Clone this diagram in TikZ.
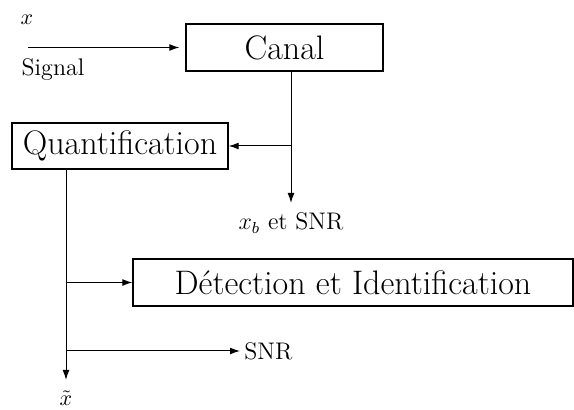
\RequirePackage{fix-cm}
\documentclass[tikz,border=0pt]{standalone}
\usetikzlibrary{arrows.meta,calc}
\begin{document}
\begin{tikzpicture}[x=0.5pt,y=-0.5pt,
  blk/.style={draw,line width=0.6pt,inner sep=0pt,font=\fontsize{17}{20}\selectfont},
  lbl/.style={inner sep=0pt,font=\fontsize{12}{14}\selectfont},
  mlbl/.style={inner sep=0pt,font=\fontsize{11}{13}\selectfont},
  arr/.style={-{Latex[length=5pt,width=3.4pt]},line width=0.5pt},
  ln/.style={line width=0.5pt}]
\useasboundingbox (0,0) rectangle (574,410);
% blocks
\node[blk,minimum width=98.5pt,minimum height=23.5pt] (canal) at (284.5,47.5) {Canal};
\node[blk,minimum width=108pt,minimum height=23pt] (quant) at (120,146) {Quantification};
\node[blk,minimum width=220pt,minimum height=23.5pt] (det) at (353,282.5) {D\'etection et Identification};
% labels
\node[mlbl] (x) at (27,20) {$x$};
\node[lbl] (sig) at (53,70) {Signal};
\node[lbl] (xb) at (291,223) {$x_b$ et SNR};
\node[lbl,anchor=west] (snr) at (244,351) {SNR};
\node[mlbl] (xt) at (66,398) {$\tilde{x}$};
% coordinates
\coordinate (in) at (28,47.5);
\coordinate (xbtip) at (291,203);
\coordinate (qtip) at (66,380);
% connectors
\draw[arr,shorten >=3pt] (in) -- (canal.west);
\draw[arr] (canal.south -| xbtip) -- (xbtip);
\draw[arr] (xbtip |- quant.east) -- (quant.east);
\draw[arr] (quant.south -| qtip) -- (qtip);
\draw[arr] (qtip |- det.west) -- (det.west);
\draw[arr] (qtip |- snr.west) -- ([xshift=-2pt]snr.west);
\end{tikzpicture}
\end{document}
